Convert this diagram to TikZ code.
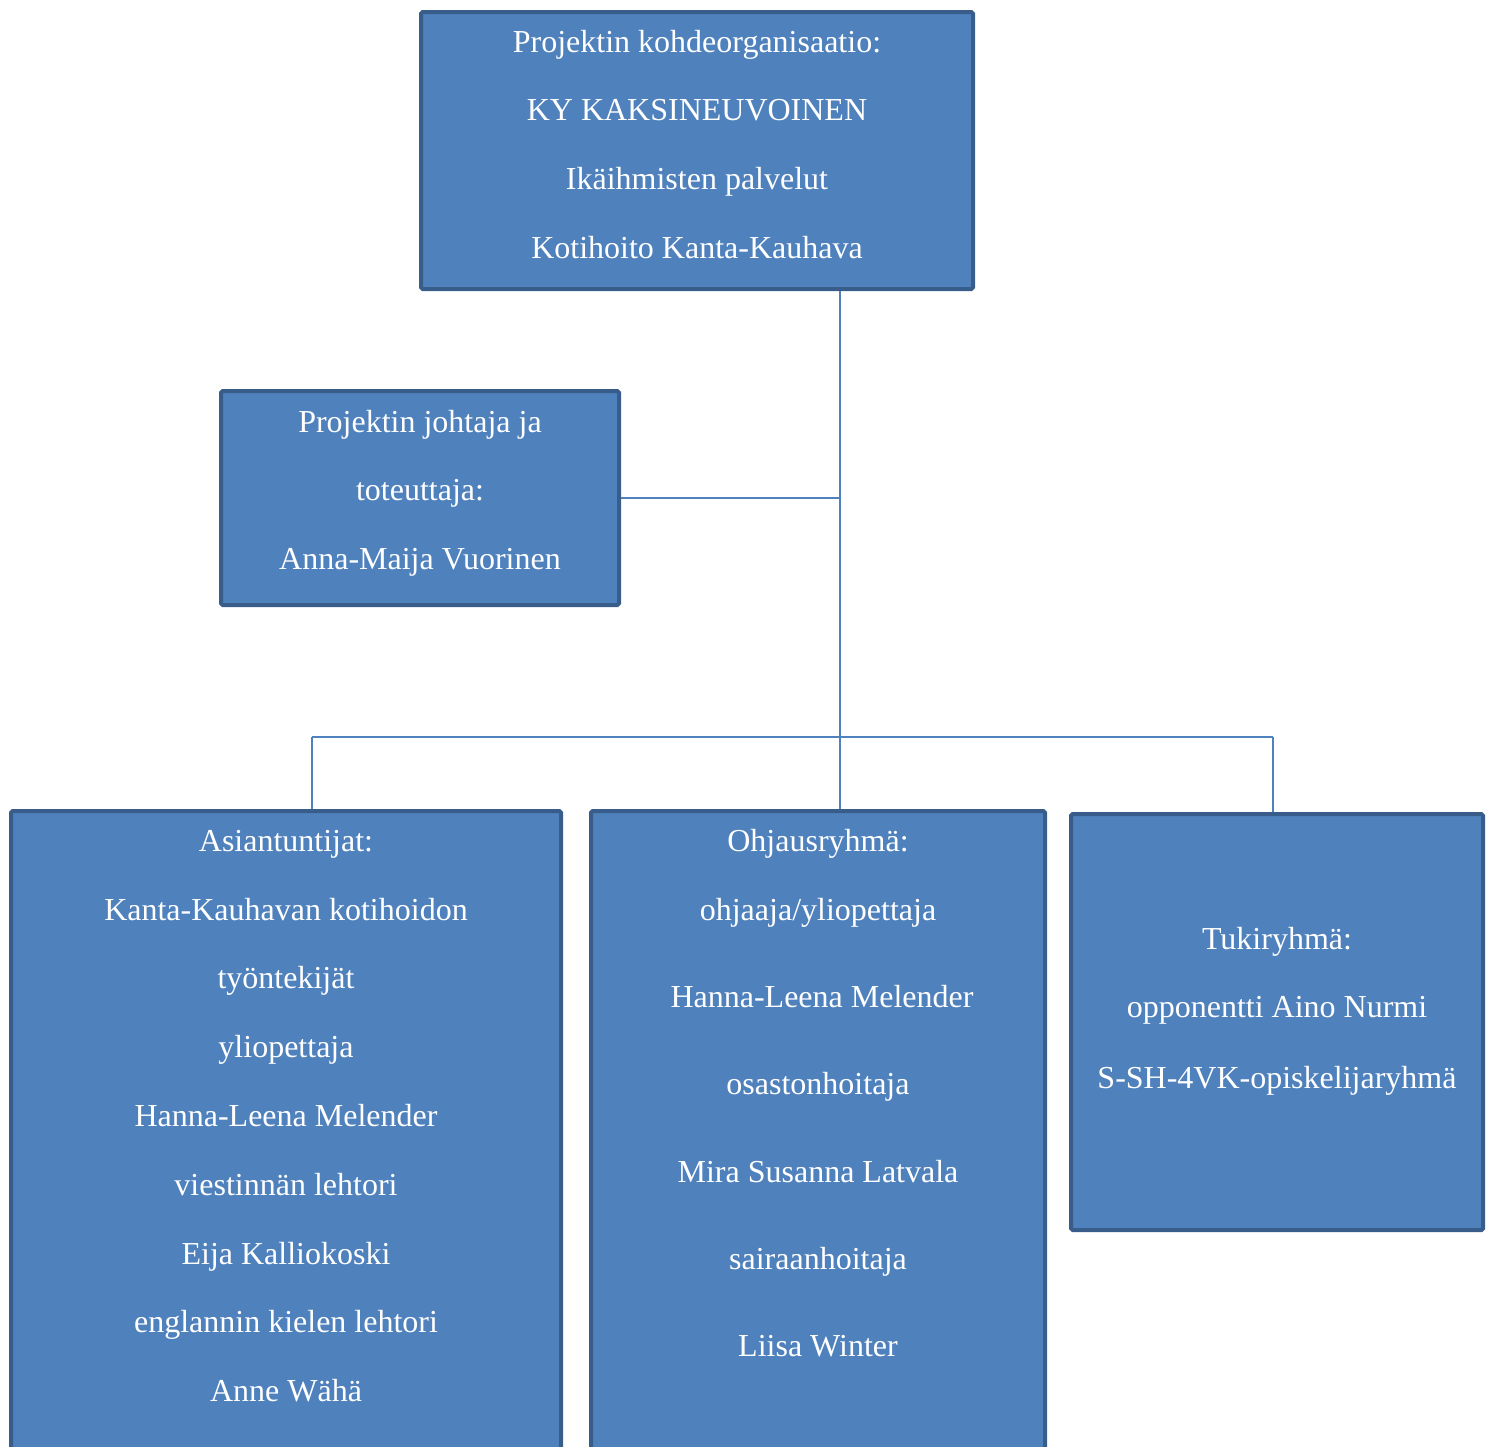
\documentclass[tikz,border=0pt]{standalone}
\usepackage{fontspec}
\setmainfont{Liberation Serif}
\definecolor{boxfill}{HTML}{4F81BD}
\definecolor{boxline}{HTML}{385D8A}
\definecolor{conn}{HTML}{4F81BD}
\tikzset{
  orgbox/.style={draw=boxline, fill=boxfill, line width=2pt, rectangle, rounded corners=0.8pt, inner sep=0pt},
  txt/.style={text=white, anchor=base, inner sep=0pt, font=\fontsize{16}{19}\selectfont},
  link/.style={draw=conn, line width=1pt}
}
\begin{document}
\begin{tikzpicture}[x=0.5pt,y=-0.5pt]
\useasboundingbox (0,0) rectangle (1494,1446);
\clip (0,0) rectangle (1494,1446);
% boxes (node shapes, drawn later over connectors via layering order)
\path
  node[orgbox, minimum width=276pt, minimum height=138.5pt] (top) at (697,150.5) {}
  node[orgbox, minimum width=199pt, minimum height=107pt] (lead) at (420,498) {}
  node[orgbox, minimum width=275pt, minimum height=344.5pt] (asi) at (286,1155.5) {}
  node[orgbox, minimum width=227pt, minimum height=344.5pt] (ohj) at (818,1155.5) {}
  node[orgbox, minimum width=206pt, minimum height=208pt] (tuki) at (1277,1022) {};
% connectors
\coordinate (vx) at (840,0);
\coordinate (bl) at (312,737);
\coordinate (br) at (1273,737);
\draw[link] (top.south -| vx) -- (ohj.north -| vx);
\draw[link] (lead.east) -- (lead.east -| vx);
\draw[link] (bl) -- (br);
\draw[link] (bl) -- (asi.north -| bl);
\draw[link] (br) -- (tuki.north -| br);
% texts
\node[txt] (t1) at (697,52) {Projektin kohdeorganisaatio:};
\node[txt] (t2) at (697,120) {KY KAKSINEUVOINEN};
\node[txt] (t3) at (697,189) {Ikäihmisten palvelut};
\node[txt] (t4) at (697,258) {Kotihoito Kanta-Kauhava};
\node[txt] (l1) at (420,432) {Projektin johtaja ja};
\node[txt] (l2) at (420,500) {toteuttaja:};
\node[txt] (l3) at (420,569) {Anna-Maija Vuorinen};
\node[txt] (a1) at (286,851) {Asiantuntijat:};
\node[txt] (a2) at (286,920) {Kanta-Kauhavan kotihoidon};
\node[txt] (a3) at (286,988) {työntekijät};
\node[txt] (a4) at (286,1057) {yliopettaja};
\node[txt] (a5) at (286,1126) {Hanna-Leena Melender};
\node[txt] (a6) at (286,1195) {viestinnän lehtori};
\node[txt] (a7) at (286,1264) {Eija Kalliokoski};
\node[txt] (a8) at (286,1332) {englannin kielen lehtori};
\node[txt] (a9) at (286,1401) {Anne Wähä};
\node[txt] (o1) at (818,851) {Ohjausryhmä:};
\node[txt] (o2) at (818,920) {ohjaaja/yliopettaja};
\node[txt] (o3) at (822,1007) {Hanna-Leena Melender};
\node[txt] (o4) at (818,1094) {osastonhoitaja};
\node[txt] (o5) at (818,1182) {Mira Susanna Latvala};
\node[txt] (o6) at (818,1269) {sairaanhoitaja};
\node[txt] (o7) at (818,1356) {Liisa Winter};
\node[txt] (k1) at (1277,949) {Tukiryhmä:};
\node[txt] (k2) at (1277,1017) {opponentti Aino Nurmi};
\node[txt] (k3) at (1277,1088) {S-SH-4VK-opiskelijaryhmä};
\end{tikzpicture}
\end{document}
